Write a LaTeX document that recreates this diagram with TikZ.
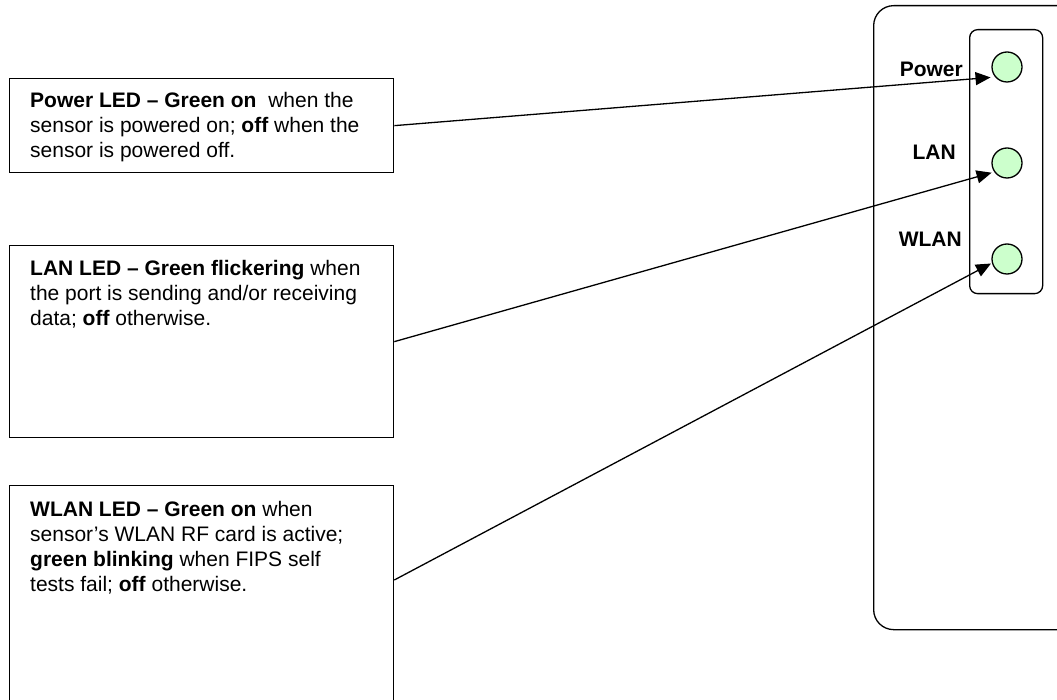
\documentclass[tikz,border=0pt]{standalone}
\usepackage{fontspec}
\setmainfont{Liberation Sans}
\usetikzlibrary{arrows.meta}
\definecolor{ledgreen}{RGB}{204,255,204}
\begin{document}
\begin{tikzpicture}[x=1pt,y=-1pt,
  box/.style={draw, line width=1.3pt, inner sep=0pt, anchor=north west},
  txt/.style={align=left, inner sep=0pt, anchor=base west, font=\fontsize{21}{25}\selectfont},
  lbl/.style={inner sep=0pt, anchor=base east, font=\fontsize{21}{25}\selectfont\bfseries},
  led/.style={circle, draw, line width=1.3pt, fill=ledgreen, minimum size=30pt, inner sep=0pt},
  arr/.style={line width=1.3pt, -{Triangle[length=15pt,width=13pt]}}
]
\useasboundingbox (0,0) rectangle (1057,700);
\clip (0,0) rectangle (1057,700);
% device
\node[box, rounded corners=20pt, minimum width=220pt, minimum height=624pt] (case) at (873,5) {};
\node[box, rounded corners=8pt, minimum width=73pt, minimum height=264pt] (panel) at (969,29) {};
\node[led] (led1) at (1007,67) {};
\node[led] (led2) at (1007,163) {};
\node[led] (led3) at (1007,259) {};
\node[lbl] (lp) at (963,76.5) {Power};
\node[lbl] (ll) at (956,160) {LAN};
\node[lbl] (lw) at (962,247) {WLAN};
% description boxes
\node[box, minimum width=384pt, minimum height=94pt] (pbox) at (9,78) {};
\node[box, minimum width=384pt, minimum height=192pt] (lbox) at (9,245) {};
\node[box, minimum width=384pt, minimum height=235pt] (wbox) at (9,485) {};
\node[txt] (ptext) at (30,158) {\textbf{Power LED – Green on}\ \ when the\\sensor is powered on; \textbf{off} when the\\sensor is powered off.};
\node[txt] (ltext) at (30,325.5) {\textbf{LAN LED – Green flickering} when\\the port is sending and/or receiving\\data; \textbf{off} otherwise.};
\node[txt] (wtext) at (30,591) {\textbf{WLAN LED – Green on} when\\sensor’s WLAN RF card is active;\\\textbf{green blinking} when FIPS self\\tests fail; \textbf{off} otherwise.};
% connectors
\draw[arr, shorten >=4.5pt] (pbox.east) -- (led1.220);
\draw[arr, shorten >=2.7pt] (lbox.east) -- (led2.215);
\draw[arr, shorten >=1pt] ([yshift=-95pt]wbox.north east) -- (led3.195);
\end{tikzpicture}
\end{document}
